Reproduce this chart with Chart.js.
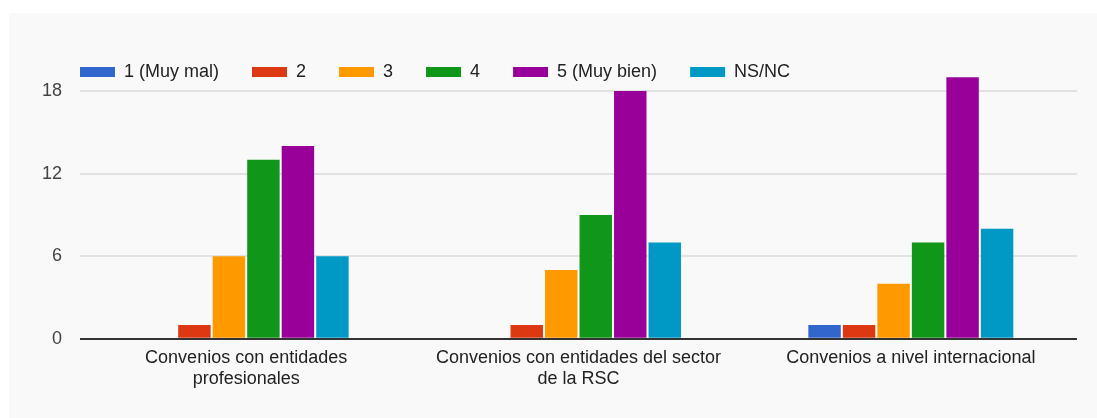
<!DOCTYPE html>
<html>
<head>
<meta charset="utf-8">
<script src="https://cdn.jsdelivr.net/npm/chart.js@4/dist/chart.umd.min.js"></script>
<style>
    html, body { margin: 0; padding: 0; background: #ffffff; }
    #panel {
        position: absolute; left: 9px; top: 13px; right: 0; bottom: 0;
        background: #f9f9f9;
    }
    #wrap { position: absolute; left: 0; top: 0; width: 1097px; height: 418px; }
</style>
</head>
<body>
<div id="panel"></div>
<div id="wrap"><canvas id="chart" width="1097" height="418"></canvas></div>
<script>
const categories = [
    ["Convenios con entidades", "profesionales"],
    ["Convenios con entidades del sector", "de la RSC"],
    ["Convenios a nivel internacional"]
];
const seriesNames = ["1 (Muy mal)", "2", "3", "4", "5 (Muy bien)", "NS/NC"];
const seriesColors = ["#3366cc", "#dc3912", "#ff9900", "#109618", "#990099", "#0099c6"];
const muyMal = [0, 0, 1];
const dos = [1, 1, 1];
const tres = [6, 5, 4];
const cuatro = [13, 9, 7];
const muyBien = [14, 18, 19];
const nsnc = [6, 7, 8];
const yTicks = [0, 6, 12, 18];

const values = [muyMal, dos, tres, cuatro, muyBien, nsnc];
const font = "'Liberation Sans', Arial, sans-serif";

// legend starts a bit right of the y labels, shift it after layout
const legendShift = {
    id: "legendShift",
    afterLayout(chart) {
        if (chart.legend) chart.legend.left += 8;
    }
};

new Chart(document.getElementById("chart"), {
    type: "bar",
    data: {
        labels: categories,
        datasets: seriesNames.map((name, i) => ({
            label: name,
            data: values[i],
            backgroundColor: seriesColors[i],
            borderWidth: 0,
            barPercentage: 0.94,
            categoryPercentage: 0.623,
            clip: false
        }))
    },
    options: {
        responsive: false,
        animation: false,
        layout: { padding: { left: 39, right: 20, top: 30, bottom: 20 } },
        plugins: {
            tooltip: { enabled: false },
            legend: {
                position: "top",
                align: "start",
                labels: {
                    boxWidth: 35,
                    boxHeight: 10,
                    padding: 33,
                    color: "#222222",
                    font: { family: font, size: 18 }
                }
            }
        },
        scales: {
            x: {
                grid: { display: false, drawTicks: false },
                border: { display: false },
                ticks: {
                    color: "#222222",
                    padding: 8,
                    maxRotation: 0,
                    autoSkip: false,
                    font: { family: font, size: 18 }
                }
            },
            y: {
                min: yTicks[0],
                max: yTicks[yTicks.length - 1],
                afterFit: (scale) => { scale.width = 41; },
                afterBuildTicks: (scale) => { scale.ticks = yTicks.map(v => ({ value: v })); },
                grid: {
                    drawTicks: false,
                    color: (ctx) => ctx.tick && ctx.tick.value === 0 ? "#333333" : "#e2e2e2",
                    lineWidth: 2
                },
                border: { display: false },
                ticks: {
                    color: "#444444",
                    padding: 18,
                    font: { family: font, size: 18 }
                }
            }
        }
    },
    plugins: [legendShift]
});
</script>
</body>
</html>
